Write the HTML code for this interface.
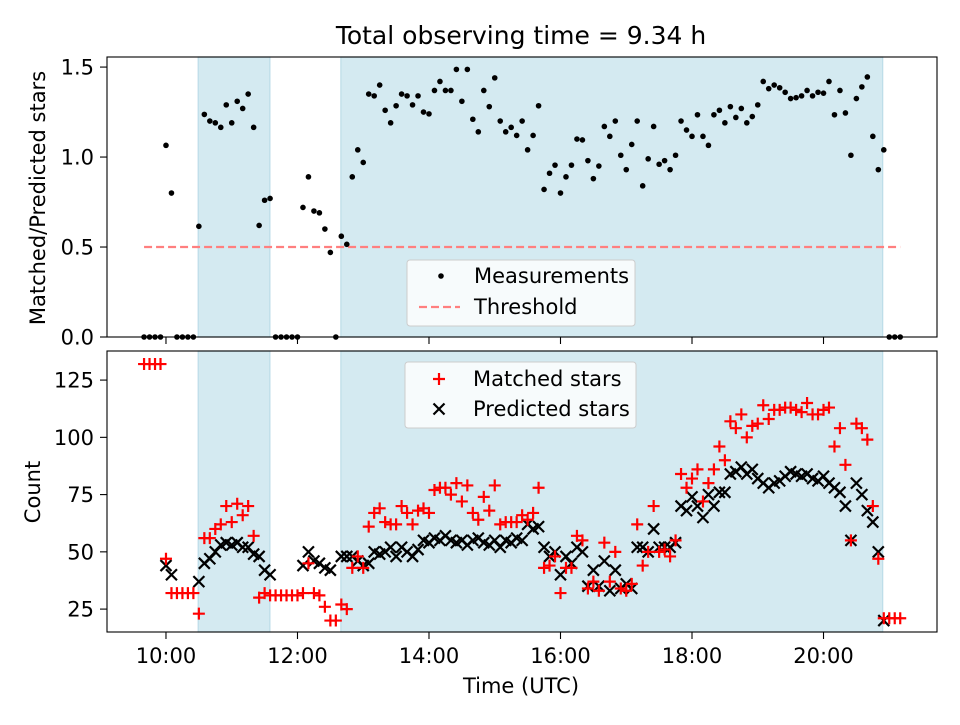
<!DOCTYPE html>
<html><head><meta charset="utf-8"><style>
body{margin:0;background:#fff;font-family:"Liberation Sans","DejaVu Sans",sans-serif}
svg text{font-family:"DejaVu Sans","Liberation Sans",sans-serif;fill:#000}
</style></head><body>
<svg id="chart" width="960" height="720" viewBox="0 0 960 720" xmlns="http://www.w3.org/2000/svg"></svg>
<script>
// ---- data (time index i => 09:40 + 5 min * i) ----
const startHour = 9 + 40/60;
const stepMin = 5;
const ratio = [0,0,0,0,1.065,0.80,0,0,0,0,0.615,1.237,1.20,1.19,1.165,1.29,1.19,1.31,1.27,1.35,1.165,0.62,0.76,0.77,0,0,0,0,0,0.72,0.89,0.70,0.69,0.60,0.47,0,0.56,0.515,0.89,1.04,0.97,1.35,1.34,1.40,1.26,1.19,1.285,1.35,1.34,1.29,1.34,1.25,1.24,1.37,1.42,1.37,1.37,1.487,1.31,1.487,1.21,1.14,1.37,1.28,1.44,1.20,1.14,1.165,1.12,1.20,1.04,1.12,1.285,0.82,0.91,0.955,0.80,0.89,0.955,1.10,1.095,0.98,0.88,0.95,1.17,1.115,1.20,1.01,0.93,1.07,1.20,0.84,0.99,1.17,0.96,0.98,0.93,1.01,1.20,1.15,1.115,1.235,1.115,1.065,1.235,1.26,1.19,1.28,1.22,1.27,1.19,1.225,1.29,1.42,1.38,1.40,1.385,1.36,1.325,1.33,1.34,1.37,1.34,1.36,1.355,1.42,1.235,1.37,1.245,1.01,1.325,1.39,1.445,1.115,0.93,1.04,0,0,0];
const matched = [132,132,132,132,47,32,32,32,32,32,23,56,56,60,62,70,63,71,66,70,57,30,32,31,31,31,31,31,31,32,45,32,31,26,20,20,27,25,43,48,43,61,67,69,63,62,62,70,67,62,68,69,67,77,78,78,75,80,72,79,67,64,74,68,79,62,63,63,63,66,64,67,78,43,44,48,32,43,43,57,55,34,37,33,54,37,50,34,33,36,62,44,50,70,50,51,48,55,84,78,82,86,72,80,86,96,90,107,104,110,100,105,106,114,108,112,112,113,113,112,111,115,110,110,112,113,96,104,88,55,106,104,99,70,47,21,21,21,21];
const predicted = [null,null,null,null,44,40,null,null,null,null,37,45,47,50,53,54,53,54,52,52,49,48,42,40,null,null,null,null,null,44,50,46,45,43,42,null,48,48,48,46,44,45,50,49,50,52,48,52,50,48,51,55,54,56,55,57,55,54,55,53,55,56,54,53,55,52,55,54,56,55,62,60,61,52,48,50,40,48,45,52,50,35,42,35,46,33,42,34,36,34,52,52,50,60,52,52,52,54,70,68,74,70,65,75,70,76,76,84,85,87,84,86,82,80,78,80,81,83,85,84,83,84,82,81,83,80,78,76,70,55,80,75,68,63,50,20,null,null,null];
const shadeSpans = [[10.49,11.58],[12.66,20.9]];
const threshold = 0.5;
const xTickHours = [10,12,14,16,18,20];
const xTickLabels = ["10:00","12:00","14:00","16:00","18:00","20:00"];
const topYTicks = [0,0.5,1.0,1.5];
const topYLabels = ["0.0","0.5","1.0","1.5"];
const botYTicks = [25,50,75,100,125];
const title = "Total observing time = 9.34 h";

// ---- geometry ----
const L=107,R=937, T1=57,B1=337, T2=351,B2=632;
const xMin=9.103,xMax=21.726;
const FS=21;
const x = h => L + (h-xMin)/(xMax-xMin)*(R-L);
const y1 = v => B1 - (v-0)/(1.556-0)*(B1-T1);
const y2 = v => B2 - (v-15)/(137.7-15)*(B2-T2);
const hourOf = i => startHour + i*stepMin/60;

const svg=document.getElementById('chart');
const NS="http://www.w3.org/2000/svg";
function mk(tag,attrs,parent){const e=document.createElementNS(NS,tag);for(const k in attrs)e.setAttribute(k,attrs[k]);(parent||svg).appendChild(e);return e;}
function txt(s,attrs,parent){const e=mk('text',attrs,parent);e.textContent=s;return e;}

// title
const tt=txt(title,{x:521,y:44,'font-size':25,'text-anchor':'middle'});



function panel(T,B,yf,ticks,labels,name){
  const g=mk('g',{});
  
  
  shadeSpans.forEach(s=>{
    const r=mk('rect',{x:x(s[0]),y:T,width:x(s[1])-x(s[0]),height:B-T,fill:'#d4eaf1',stroke:'#bcdce8','stroke-width':1.2},g);
    
    
  });
  ticks.forEach((v,k)=>{
    mk('line',{x1:L-7,x2:L,y1:yf(v),y2:yf(v),stroke:'#000','stroke-width':1.1},g);
    const t=txt(labels[k],{x:L-13,y:yf(v)+7.5,'font-size':FS,'text-anchor':'end'},g);
    
    
  });
  xTickHours.forEach(h=>mk('line',{x1:x(h),x2:x(h),y1:B,y2:B+7,stroke:'#000','stroke-width':1.1},g));
  return g;
}
function frame(T,B){mk('rect',{x:L,y:T,width:R-L,height:B-T,fill:'none',stroke:'#000','stroke-width':1.1});}

// ---- top panel ----
const gTop=panel(T1,B1,y1,topYTicks,topYLabels,'ratio-panel');
const th=mk('line',{x1:x(hourOf(0)),x2:x(hourOf(ratio.length-1)),y1:y1(threshold),y2:y1(threshold),stroke:'#ff7f7f','stroke-width':2.2,'stroke-dasharray':'8,4'});


ratio.forEach((v,i)=>{
  const c=mk('circle',{cx:x(hourOf(i)),cy:y1(v),r:2.8,fill:'#000'});
  
  
});
frame(T1,B1);
const yl1=txt('Matched/Predicted stars',{x:0,y:0,'font-size':FS,'text-anchor':'middle',transform:'translate(45,198) rotate(-90)'});



// top legend
const lg1=mk('g',{});


mk('rect',{x:407,y:260,width:228,height:66,rx:3,fill:'#fff','fill-opacity':0.8,stroke:'#ccc'},lg1);
mk('circle',{cx:441,cy:276,r:2.8,fill:'#000'},lg1);
txt('Measurements',{x:474,y:283,'font-size':FS},lg1);
mk('line',{x1:419,x2:460,y1:307,y2:307,stroke:'#ff7f7f','stroke-width':2.2,'stroke-dasharray':'8,4'},lg1);
txt('Threshold',{x:474,y:314,'font-size':FS},lg1);

// ---- bottom panel ----
const gBot=panel(T2,B2,y2,botYTicks,botYTicks.map(String),'count-panel');
predicted.forEach((v,i)=>{
  if(v===null)return;
  const cx=x(hourOf(i)),cy=y2(v),d=5.5;
  const p=mk('path',{d:`M${cx-d},${cy-d}L${cx+d},${cy+d}M${cx-d},${cy+d}L${cx+d},${cy-d}`,stroke:'#000','stroke-width':2.2,fill:'none'});
  
  
});
matched.forEach((v,i)=>{
  if(v===null)return;
  const cx=x(hourOf(i)),cy=y2(v),d=6;
  const p=mk('path',{d:`M${cx-d},${cy}L${cx+d},${cy}M${cx},${cy-d}L${cx},${cy+d}`,stroke:'#ff0000','stroke-width':2.2,fill:'none'});
  
  
});
frame(T2,B2);
xTickHours.forEach((h,k)=>{
  const t=txt(xTickLabels[k],{x:x(h),y:B2+31,'font-size':FS,'text-anchor':'middle'});
  
  
});
const xl=txt('Time (UTC)',{x:521,y:693,'font-size':FS,'text-anchor':'middle'});


const yl2=txt('Count',{x:0,y:0,'font-size':FS,'text-anchor':'middle',transform:'translate(40,492) rotate(-90)'});



// bottom legend
const lg2=mk('g',{});


mk('rect',{x:405,y:362,width:231,height:66,rx:3,fill:'#fff','fill-opacity':0.8,stroke:'#ccc'},lg2);
mk('path',{d:'M433,379L445,379M439,373L439,385',stroke:'#ff0000','stroke-width':2.2},lg2);
txt('Matched stars',{x:473,y:386,'font-size':FS},lg2);
mk('path',{d:'M433.5,403.5L444.5,414.5M433.5,414.5L444.5,403.5',stroke:'#000','stroke-width':2.2},lg2);
txt('Predicted stars',{x:473,y:416,'font-size':FS},lg2);
</script>
</body></html>
